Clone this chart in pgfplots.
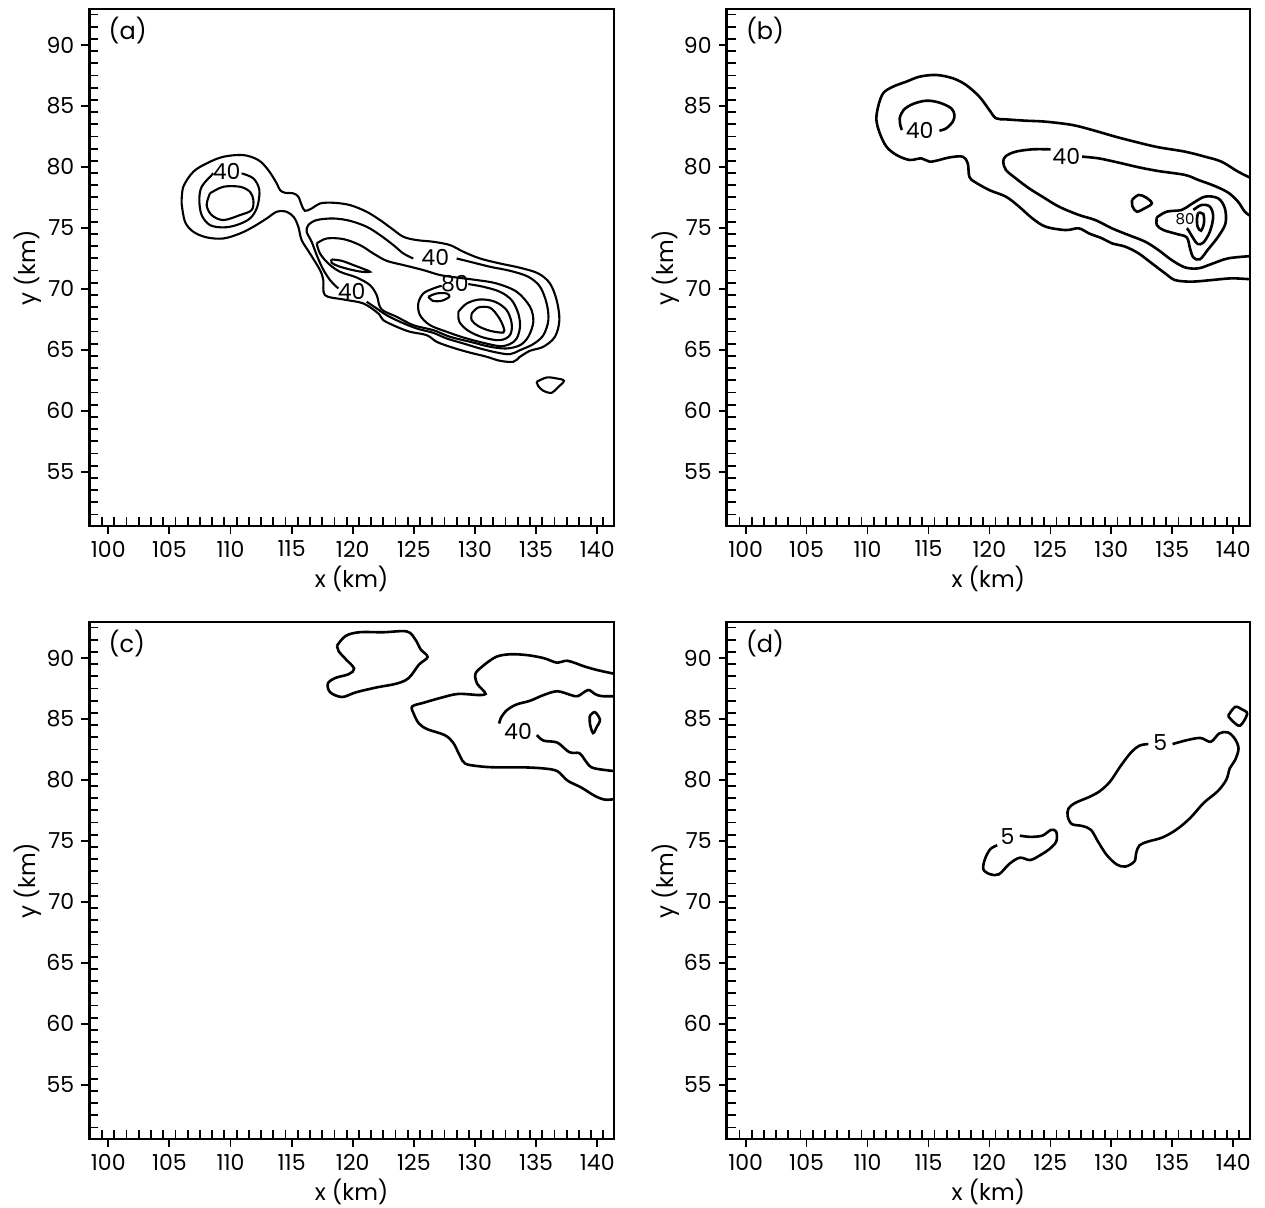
\documentclass[border=0pt]{standalone}
\usepackage{fontspec}
\setmainfont{Poppins}
\usepackage{pgfplots}
\pgfplotsset{compat=1.18}
\pgfplotsset{
  panel/.style={
    scale only axis, anchor=south west,
    xmin=98.45, xmax=141.37, ymin=50.55, ymax=92.95,
    xtick={100,105,...,140}, ytick={55,60,...,90},
    minor xtick={99.5,100.5,...,140.5}, minor ytick={51.5,52.5,...,92.5},
    tick align=outside, major tick length=4pt, minor tick length=-4.5pt,
    xtick pos=bottom, ytick pos=left,
    axis line style={line width=1.3pt},
    major tick style={black, line width=0.9pt},
    minor tick style={black, line width=0.9pt},
    tick label style={font=\fontsize{11}{13}\selectfont},
    /pgf/number format/assume math mode=true,
    xlabel={x (km)}, ylabel={y (km)},
    label style={font=\fontsize{11.5}{13}\selectfont},
    xlabel style={at={(axis description cs:0.5,-0.1025)}, anchor=center},
    ylabel style={at={(axis description cs:-0.1166,0.5)}, anchor=center},
  },
  ct/.style={black, line width=1.3pt, smooth, tension=0.55, mark=none},
  cta/.style={black, line width=1.05pt, smooth, tension=0.55, mark=none},
}
\newcommand{\plab}[1]{\node[anchor=north west, inner sep=0pt, xshift=9.5pt, yshift=-4pt, font=\fontsize{12}{14}\selectfont] at (rel axis cs:0,1) {#1};}
\begin{document}
\begin{tikzpicture}
\useasboundingbox (0,0) rectangle (632.5pt,603.5pt);
% ---------------- (a)
\begin{axis}[panel, at={(44.65pt,340.5pt)}, width=262.35pt, height=258.5pt]
\addplot[cta] coordinates {(106.00,77.00)(106.14,78.37)(106.96,79.60)(108.05,80.29)(109.41,80.83)(111.05,80.97)(112.28,80.56)(113.09,79.74)(113.78,78.65)(114.05,78.10)(114.46,77.88)(115.14,77.83)(115.55,77.55)(115.82,76.87)(116.09,76.40)(116.64,76.59)(117.32,77.00)(118.41,77.06)(119.77,76.87)(121.14,76.32)(122.23,75.64)(123.18,74.95)(124.14,74.27)(125.23,74.00)(126.59,73.86)(127.95,73.59)(129.05,73.04)(130.41,72.49)(132.04,72.08)(133.68,71.73)(135.18,71.26)(136.13,70.44)(136.68,69.07)(136.90,67.43)(136.54,66.07)(135.59,65.25)(134.50,64.92)(133.68,64.43)(133.14,64.02)(132.04,64.10)(130.95,64.43)(129.32,64.84)(127.95,65.25)(126.86,65.66)(126.05,66.20)(124.68,66.48)(123.59,66.89)(122.50,67.43)(122.09,67.98)(120.87,68.80)(119.23,69.13)(117.73,69.48)(117.59,70.72)(117.32,71.54)(116.50,72.90)(115.82,74.00)(115.55,75.09)(115.19,75.86)(114.59,76.32)(113.78,76.32)(112.96,75.77)(111.87,75.09)(110.78,74.54)(109.41,74.13)(108.05,74.22)(106.96,74.68)(106.28,75.50)(106.00,77.00)};
\addplot[cta] coordinates {(110.91,79.47)(111.87,79.06)(112.36,78.10)(112.19,76.73)(111.59,75.77)(110.50,75.23)(109.41,75.04)(108.32,75.23)(107.64,76.05)(107.45,77.28)(107.64,78.37)(108.46,79.33)(108.60,79.47)};
\addplot[cta] coordinates {(108.32,77.83)(109.41,78.37)(110.78,78.37)(111.59,77.96)(111.87,77.28)(111.73,76.46)(110.78,76.05)(109.41,75.64)(108.46,76.05)(108.05,76.87)(108.32,77.83)};
\addplot[cta] coordinates {(128.50,72.49)(129.59,72.22)(131.23,71.81)(132.86,71.48)(134.36,70.99)(135.32,70.17)(135.86,68.80)(136.00,67.43)(135.59,66.20)(134.77,65.47)(133.68,64.97)(132.86,64.64)(131.77,64.78)(130.41,65.11)(129.05,65.52)(127.68,65.93)(126.59,66.39)(125.23,66.75)(123.86,67.30)(122.77,67.84)(121.96,68.39)(121.14,68.94)};
\addplot[cta] coordinates {(118.82,70.03)(118.14,70.72)(117.54,71.67)(117.05,72.77)(116.64,73.86)(116.23,74.68)(116.37,75.23)(117.05,75.64)(118.41,75.77)(119.77,75.58)(121.14,75.09)(122.23,74.41)(123.32,73.59)(124.14,72.90)(124.95,72.49)};
\addplot[cta] coordinates {(117.05,73.72)(117.87,74.13)(119.23,74.08)(120.59,73.59)(121.68,72.90)(122.77,72.30)(124.14,71.95)(125.77,71.54)(127.14,71.13)(128.50,70.93)(130.14,70.72)(131.77,70.44)(133.41,69.76)(134.50,68.53)(134.77,67.30)(134.36,66.07)(133.68,65.38)(132.59,65.11)(131.23,65.25)(129.59,65.66)(127.95,66.07)(126.59,66.61)(124.95,67.02)(123.59,67.71)(122.50,68.20)(122.17,68.66)(121.96,69.48)(121.41,70.30)(120.32,70.93)(118.96,71.40)(118.00,72.08)(117.32,72.90)(117.05,73.72)};
\addplot[cta] coordinates {(118.27,72.41)(119.09,72.30)(120.05,71.95)(121.00,71.59)(121.41,71.40)(120.73,71.40)(119.77,71.59)(118.82,71.86)(118.27,72.14)(118.27,72.41)};
\addplot[cta] coordinates {(129.45,70.39)(130.68,70.17)(132.04,69.76)(133.00,69.07)(133.54,67.98)(133.68,66.89)(133.41,65.93)(132.86,65.47)(132.04,65.30)(130.68,65.57)(129.05,66.01)(127.68,66.48)(126.32,67.02)(125.50,67.84)(125.36,68.80)(125.77,69.62)(126.59,70.03)(127.27,70.25)};
\addplot[cta] coordinates {(126.18,69.35)(126.86,69.62)(127.68,69.62)(127.90,69.35)(127.27,69.02)(126.54,69.02)(126.18,69.35)};
\addplot[cta] coordinates {(128.64,68.12)(129.32,68.80)(130.41,69.13)(131.64,68.94)(132.59,68.25)(133.00,67.16)(132.86,66.20)(132.04,65.79)(130.68,66.01)(129.45,66.56)(128.72,67.30)(128.64,68.12)};
\addplot[cta] coordinates {(129.73,67.98)(130.27,68.47)(131.23,68.45)(131.91,67.71)(132.32,66.89)(132.32,66.42)(131.23,66.56)(130.27,66.94)(129.73,67.43)(129.73,67.98)};
\addplot[cta] coordinates {(135.04,62.37)(135.86,62.73)(136.68,62.65)(137.28,62.46)(136.77,61.91)(136.27,61.47)(135.59,61.64)(135.18,62.02)(135.04,62.37)};
\node[font=\fontsize{11}{12}\selectfont] at (axis cs:109.69,79.60) {40};
\node[font=\fontsize{11}{12}\selectfont] at (axis cs:126.75,72.55) {40};
\node[font=\fontsize{11}{12}\selectfont] at (axis cs:119.91,69.76) {40};
\node[font=\fontsize{11}{12}\selectfont] at (axis cs:128.36,70.44) {80};
\plab{(a)}
\end{axis}
% ---------------- (b)
\begin{axis}[panel, at={(363.35pt,340.5pt)}, width=261.65pt, height=258.5pt]
\addplot[ct] coordinates {(141.5,79.06)(140.39,79.61)(139.03,80.43)(137.67,80.84)(136.04,81.25)(133.86,81.61)(132.23,81.99)(130.33,82.48)(128.42,83.03)(126.79,83.44)(124.61,83.71)(122.98,83.79)(121.35,83.90)(120.53,83.99)(119.99,84.67)(119.17,85.76)(118.08,86.72)(116.99,87.27)(115.63,87.54)(114.27,87.40)(113.18,86.99)(112.09,86.58)(111.28,86.04)(110.87,84.94)(110.73,83.85)(111.01,82.75)(111.55,81.66)(112.37,80.98)(113.45,80.57)(114.41,80.70)(115.09,80.43)(115.90,80.57)(116.72,80.78)(117.81,80.84)(118.22,80.29)(118.35,79.20)(118.76,78.79)(119.99,78.10)(121.35,77.56)(122.43,76.74)(123.52,75.78)(124.61,75.10)(126.24,74.82)(127.33,74.96)(128.15,74.55)(129.24,74.14)(130.05,73.73)(131.14,73.46)(132.23,72.91)(133.32,72.09)(134.41,71.27)(135.22,70.72)(136.58,70.59)(138.22,70.72)(139.85,70.86)(141.5,70.78)};
\addplot[ct] coordinates {(115.90,82.97)(116.45,83.16)(116.99,83.71)(117.13,84.26)(116.86,84.81)(115.90,85.27)(114.82,85.43)(113.73,85.16)(112.96,84.67)(112.64,83.98)(112.72,83.30)(112.83,83.03)};
\addplot[ct] coordinates {(125.02,81.44)(123.52,81.44)(122.16,81.25)(121.35,80.89)(121.13,80.43)(121.35,79.75)(122.16,79.06)(123.25,78.24)(124.34,77.56)(125.70,76.74)(127.33,76.06)(128.69,75.64)(130.05,74.96)(131.41,74.41)(132.77,73.87)(133.86,73.18)(134.95,72.36)(136.04,71.76)(137.13,71.68)(138.22,72.04)(139.58,72.50)(141.5,72.69)};
\addplot[ct] coordinates {(127.60,80.84)(128.96,80.70)(130.60,80.35)(132.23,79.97)(133.86,79.66)(136.04,79.34)(137.13,78.93)(138.49,78.43)(139.58,77.89)(140.39,77.15)(140.94,76.33)(141.5,75.92)};
\addplot[ct] coordinates {(131.69,77.29)(132.23,77.70)(132.83,77.50)(133.32,77.01)(132.72,76.60)(132.09,76.33)(131.74,76.74)(131.69,77.29)};
\addplot[ct] coordinates {(133.73,75.86)(134.54,76.33)(135.77,76.47)(136.58,76.96)(137.67,77.56)(138.76,77.42)(139.31,76.60)(139.36,75.37)(138.76,74.28)(137.94,73.24)(137.26,72.42)(136.72,72.58)(136.45,73.32)(136.18,74.22)(135.36,74.50)(134.27,74.82)(133.73,75.23)(133.73,75.86)};
\addplot[ct] coordinates {(136.72,76.47)(137.40,76.88)(138.08,76.74)(138.35,75.92)(138.08,74.69)(137.54,73.79)(137.07,73.68)(136.72,74.14)(136.31,74.82)(136.18,74.96)};
\addplot[ct] coordinates {(137.13,76.25)(137.54,76.14)(137.59,75.37)(137.35,74.77)(137.07,75.10)(137.02,75.78)(137.13,76.25)};
\node[font=\fontsize{11}{12}\selectfont] at (axis cs:114.27,83.03) {40};
\node[font=\fontsize{11}{12}\selectfont] at (axis cs:126.30,80.84) {40};
\node[font=\fontsize{7.5}{8}\selectfont] at (axis cs:136.04,75.70) {80};
\plab{(b)}
\end{axis}
% ---------------- (c)
\begin{axis}[panel, at={(44.65pt,34pt)}, width=262.35pt, height=258.5pt]
\addplot[ct] coordinates {(118.72,91.02)(119.41,91.80)(120.53,92.11)(122.49,92.11)(124.44,92.17)(125.14,91.48)(125.56,90.70)(126.12,90.08)(125.42,89.46)(124.58,88.36)(123.60,87.90)(121.93,87.58)(120.25,87.18)(119.13,86.80)(118.16,87.18)(117.96,87.90)(118.58,88.36)(119.69,88.68)(120.11,89.14)(119.41,89.92)(118.85,90.55)(118.72,91.02)};
\addplot[ct] coordinates {(141.5,88.68)(140.08,88.99)(138.97,89.30)(137.57,89.77)(136.73,89.61)(135.61,89.99)(134.22,90.24)(132.82,90.30)(131.70,90.08)(130.59,89.30)(130.03,88.68)(130.17,87.90)(130.59,87.43)(130.87,87.05)(130.31,86.96)(128.63,87.05)(127.23,86.74)(125.84,86.34)(124.86,86.02)(125.00,85.40)(125.42,84.62)(126.12,84.15)(127.51,83.68)(128.21,83.06)(128.77,81.97)(129.19,81.34)(130.31,81.12)(131.70,81.03)(133.94,81.03)(135.61,80.94)(136.73,80.72)(137.57,79.94)(138.69,79.38)(139.80,78.69)(140.64,78.38)(141.5,78.44)};
\addplot[ct] coordinates {(131.98,84.62)(132.12,85.09)(132.60,85.71)(133.38,86.18)(134.50,86.49)(135.61,86.96)(136.73,87.27)(137.85,86.96)(138.41,86.87)(139.25,87.37)(139.80,87.05)(140.36,86.87)(141.5,86.87)};
\addplot[ct] coordinates {(135.06,83.68)(135.61,83.22)(136.73,83.06)(137.71,82.28)(138.55,82.19)(138.97,81.66)(139.53,81.03)(140.64,80.81)(141.5,80.72)};
\addplot[ct] coordinates {(139.39,85.24)(139.80,85.56)(140.22,84.93)(139.94,84.31)(139.66,83.84)(139.41,84.56)(139.39,85.24)};
\node[font=\fontsize{11}{12}\selectfont] at (axis cs:133.52,84.0) {40};
\plab{(c)}
\end{axis}
% ---------------- (d)
\begin{axis}[panel, at={(363.35pt,34pt)}, width=261.65pt, height=258.5pt]
\addplot[ct] coordinates {(122.49,75.43)(123.35,75.33)(124.34,75.43)(125.05,75.90)(125.48,75.75)(125.48,74.95)(124.91,74.32)(124.20,73.85)(123.35,73.43)(122.49,73.62)(121.64,73.12)(120.78,72.26)(120.07,72.26)(119.50,72.67)(119.64,73.53)(120.07,74.32)(120.64,74.64)};
\addplot[ct] coordinates {(135.02,82.94)(136.16,83.25)(137.30,83.44)(138.15,83.13)(138.86,83.82)(139.57,83.89)(140.14,83.35)(140.43,82.56)(140.14,81.61)(139.72,80.97)(139.43,80.02)(138.72,79.07)(137.58,78.12)(136.44,76.85)(135.30,75.90)(134.16,75.27)(133.03,74.95)(132.31,74.64)(132.03,74.00)(131.89,73.31)(131.17,72.90)(130.46,73.05)(129.61,73.85)(128.90,74.95)(128.33,75.90)(127.62,76.22)(126.76,76.38)(126.42,77.01)(126.48,77.65)(127.05,78.12)(128.18,78.60)(129.04,79.07)(129.89,79.86)(130.75,81.13)(131.60,82.24)(132.31,82.81)(133.03,82.94)};
\addplot[ct] coordinates {(139.57,85.25)(140.14,85.98)(140.71,85.79)(141.14,85.41)(140.57,84.46)(140.00,84.77)(139.57,85.25)};
\node[font=\fontsize{11}{12}\selectfont] at (axis cs:121.49,75.33) {5};
\node[font=\fontsize{11}{12}\selectfont] at (axis cs:134.02,83.03) {5};
\plab{(d)}
\end{axis}
\end{tikzpicture}
\end{document}
